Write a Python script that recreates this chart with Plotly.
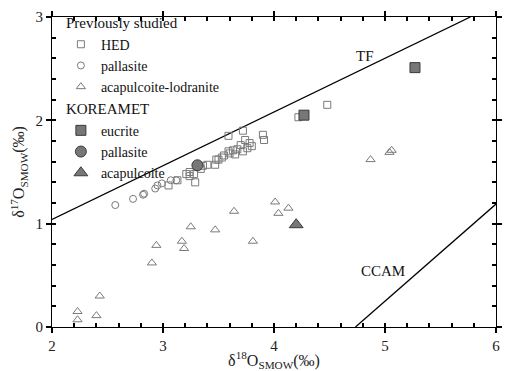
import plotly.graph_objects as go

# ---- data (delta18O, delta17O) ----
hed_x = [3.05, 3.13, 3.21, 3.24, 3.24, 3.28, 3.29, 3.34, 3.36, 3.40, 3.47, 3.48, 3.50, 3.53, 3.55,
         3.59, 3.60, 3.63, 3.65, 3.67, 3.70, 3.72, 3.74, 3.76, 3.78, 3.80, 3.59, 3.72, 3.90, 3.91,
         4.22, 4.48]
hed_y = [1.37, 1.42, 1.48, 1.46, 1.50, 1.48, 1.40, 1.53, 1.56, 1.57, 1.57, 1.62, 1.62, 1.64, 1.66,
         1.70, 1.68, 1.71, 1.67, 1.72, 1.76, 1.70, 1.81, 1.73, 1.78, 1.75, 1.85, 1.90, 1.86, 1.81,
         2.03, 2.15]
pal_x = [2.57, 2.73, 2.82, 2.83, 2.93, 2.95, 2.99, 3.07, 3.12]
pal_y = [1.18, 1.24, 1.28, 1.29, 1.34, 1.37, 1.39, 1.42, 1.42]
acl_x = [2.23, 2.23, 2.40, 2.43, 2.90, 2.94, 3.17, 3.19, 3.25, 3.47, 3.64, 3.81, 4.01, 4.04, 4.13,
         4.87, 5.04, 5.06]
acl_y = [0.15, 0.07, 0.11, 0.30, 0.62, 0.79, 0.83, 0.76, 0.97, 0.94, 1.12, 0.83, 1.21, 1.10, 1.15,
         1.62, 1.69, 1.71]
k_euc_x = [4.27, 5.27]
k_euc_y = [2.05, 2.51]
k_pal_x = [3.31]
k_pal_y = [1.565]
k_aca_x = [4.20]
k_aca_y = [0.99]

# axis tick values
x_major = [2, 3, 4, 5, 6]
y_major = [0, 1, 2, 3]
X_RANGE = [2, 6]
Y_RANGE = [0, 3]

tf_x = [2.0, 3.0 / 0.52]
tf_y = [0.52 * v for v in tf_x]
ccam_x = [4.45 / 0.94, 6.0]
ccam_y = [0.94 * v - 4.45 for v in ccam_x]

FONT = "Liberation Serif"
OPEN_C = "#7a7a7a"
FILL_C = "#777777"
EDGE_C = "#3a3a3a"
TICK_C = "#000000"
TW = 1.6

fig = go.Figure()

fig.add_trace(go.Scatter(x=tf_x, y=tf_y, mode="lines", line=dict(color="black", width=1.3),
                         showlegend=False, hoverinfo="skip"))
fig.add_trace(go.Scatter(x=ccam_x, y=ccam_y, mode="lines", line=dict(color="black", width=1.3),
                         showlegend=False, hoverinfo="skip"))

def open_trace(x, y, sym, name, size):
    return go.Scatter(x=x, y=y, mode="markers", name=name,
                      marker=dict(symbol=sym, size=size, color=OPEN_C, line=dict(width=1)),
                      legendgroup="prev",
                      legendgrouptitle=dict(text="Previously studied",
                                            font=dict(size=15, family=FONT, color="#111")))

def fill_trace(x, y, sym, name, size):
    return go.Scatter(x=x, y=y, mode="markers", name=name,
                      marker=dict(symbol=sym, size=size, color=FILL_C,
                                  line=dict(color=EDGE_C, width=1)),
                      legendgroup="korea",
                      legendgrouptitle=dict(text="KOREAMET",
                                            font=dict(size=15, family=FONT, color="#111")))

fig.add_trace(open_trace(hed_x, hed_y, "square-open", "HED", 7))
fig.add_trace(open_trace(pal_x, pal_y, "circle-open", "pallasite", 7))
fig.add_trace(open_trace(acl_x, acl_y, "triangle-up-open", "acapulcoite-lodranite", 8))
fig.add_trace(fill_trace(k_euc_x, k_euc_y, "square", "eucrite", 10))
fig.add_trace(fill_trace(k_pal_x, k_pal_y, "circle", "pallasite", 11))
fig.add_trace(fill_trace(k_aca_x, k_aca_y, "triangle-up", "acapulcoite", 12))

# invisible trace that registers the overlay axes carrying the minor ticks
fig.add_trace(go.Scatter(x=[X_RANGE[0]], y=[Y_RANGE[0]], xaxis="x2", yaxis="y2", mode="markers",
                         marker=dict(opacity=0), showlegend=False, hoverinfo="skip"))

base = dict(showgrid=False, zeroline=False, showline=True, linecolor="#000", linewidth=1,
            mirror="ticks")

fig.update_layout(
    width=508, height=371,
    margin=dict(l=52, r=6, t=12, b=44),
    plot_bgcolor="white", paper_bgcolor="white",
    font=dict(family=FONT, size=15, color="#222"),
    xaxis=dict(range=X_RANGE, tickmode="array", tickvals=x_major, ticks="outside", ticklen=5,
               tickwidth=TW, tickcolor=TICK_C,
               title=dict(text="δ<sup>18</sup>O<sub>SMOW</sub>(‰)", font=dict(size=16), standoff=0),
               tickfont=dict(size=15), **base),
    yaxis=dict(range=Y_RANGE, tickmode="array", tickvals=y_major, ticks="outside", ticklen=5,
               tickwidth=TW, tickcolor=TICK_C,
               title=dict(text="δ<sup>17</sup>O<sub>SMOW</sub>(‰)", font=dict(size=16), standoff=6),
               tickfont=dict(size=15), **base),
    xaxis2=dict(range=X_RANGE, overlaying="x", side="bottom", anchor="y2", tickmode="linear",
                tick0=2, dtick=0.2, ticks="inside", ticklen=4, tickwidth=TW, tickcolor=TICK_C,
                showticklabels=False, **base),
    yaxis2=dict(range=Y_RANGE, overlaying="y", side="left", anchor="x2", tickmode="linear",
                tick0=0, dtick=0.2, ticks="inside", ticklen=4, tickwidth=TW, tickcolor=TICK_C,
                showticklabels=False, **base),
    legend=dict(x=0.02, y=1.035, xanchor="left", yanchor="top", bgcolor="rgba(0,0,0,0)",
                font=dict(size=14, family=FONT, color="#111"), tracegroupgap=0,
                traceorder="grouped"),
    showlegend=True,
    annotations=[
        dict(x=4.82, y=2.62, text="TF", showarrow=False, font=dict(size=15, family=FONT, color="#111")),
        dict(x=4.98, y=0.54, text="CCAM", showarrow=False, font=dict(size=15, family=FONT, color="#111")),
    ],
)

fig.write_html("out.html")
